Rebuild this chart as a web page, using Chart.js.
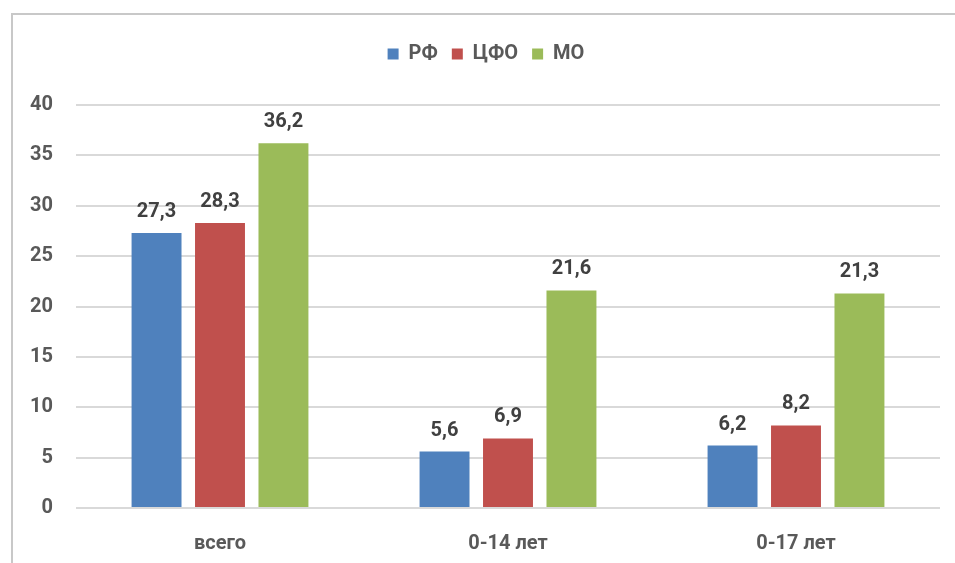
<!DOCTYPE html>
<html>
<head>
<meta charset="utf-8">
<script src="https://cdn.jsdelivr.net/npm/chart.js@4.4.1/dist/chart.umd.min.js"></script>
<style>
  html, body { margin: 0; padding: 0; background: #fff; }
  #wrap { position: relative; width: 955px; height: 563px; overflow: hidden; }
  #frame { position: absolute; left: 11px; top: 13px; width: 960px; height: 570px;
           border-left: 2px solid #C8C8C8; border-top: 2px solid #C8C8C8; }
  canvas { position: absolute; left: 0; top: 0; }
</style>
</head>
<body>
<div id="wrap">
  <div id="frame"></div>
  <canvas id="chart" width="955" height="563"></canvas>
</div>
<script>
const categories = ['всего', '0-14 лет', '0-17 лет'];
const seriesNames = ['РФ', 'ЦФО', 'МО'];
const rfValues = [27.3, 5.6, 6.2];
const cfoValues = [28.3, 6.9, 8.2];
const moValues = [36.2, 21.6, 21.3];
const seriesColors = ['#4F81BD', '#C0504D', '#9BBB59'];

const fontFamily = 'Roboto, "Liberation Sans", sans-serif';

// draw the value above each bar, with a comma decimal
const barLabels = {
  id: 'barLabels',
  afterDatasetsDraw(chart) {
    const ctx = chart.ctx;
    ctx.save();
    ctx.font = 'bold 20px ' + fontFamily;
    ctx.fillStyle = '#404040';
    ctx.textAlign = 'center';
    ctx.textBaseline = 'bottom';
    chart.data.datasets.forEach((ds, i) => {
      chart.getDatasetMeta(i).data.forEach((bar, j) => {
        const txt = ds.data[j].toFixed(1).replace('.', ',');
        ctx.fillText(txt, bar.x, bar.y - 11);
      });
    });
    ctx.restore();
  }
};

// extra room between legend and plot, and nudge legend to the right
const legendGap = {
  id: 'legendGap',
  beforeInit(chart) {
    const lg = chart.legend;
    const fit = lg.fit;
    lg.fit = function () {
      fit.bind(lg)();
      this.height += 31;
    };
    const draw = lg.draw;
    lg.draw = function () {
      const ctx = chart.ctx;
      ctx.save();
      ctx.translate(16, 0);
      draw.bind(lg)();
      ctx.restore();
    };
  }
};

const values = [rfValues, cfoValues, moValues];

new Chart(document.getElementById('chart'), {
  type: 'bar',
  data: {
    labels: categories,
    datasets: seriesNames.map((name, i) => ({
      label: name,
      data: values[i],
      backgroundColor: seriesColors[i],
      borderWidth: 0,
      categoryPercentage: 0.661,
      barPercentage: 0.787
    }))
  },
  options: {
    responsive: false,
    animation: false,
    layout: { padding: { top: 30, right: 15, bottom: -17, left: 0 } },
    plugins: {
      legend: {
        position: 'top',
        labels: {
          boxWidth: 11,
          boxHeight: 11,
          padding: 14,
          color: '#595959',
          font: { family: fontFamily, size: 20, weight: 'bold' }
        }
      },
      tooltip: { enabled: false }
    },
    scales: {
      x: {
        grid: { display: false, drawTicks: false },
        border: { display: false },
        ticks: {
          padding: 24,
          color: '#595959',
          font: { family: fontFamily, size: 20, weight: 'bold' }
        }
      },
      y: {
        min: 0,
        max: 40,
        afterFit(scale) { scale.width = 76; },
        grid: { color: '#D9D9D9', lineWidth: 2, drawTicks: false },
        border: { display: false },
        ticks: {
          stepSize: 5,
          padding: 23,
          color: '#595959',
          font: { family: fontFamily, size: 20, weight: 'bold' }
        }
      }
    }
  },
  plugins: [barLabels, legendGap]
});
</script>
</body>
</html>
